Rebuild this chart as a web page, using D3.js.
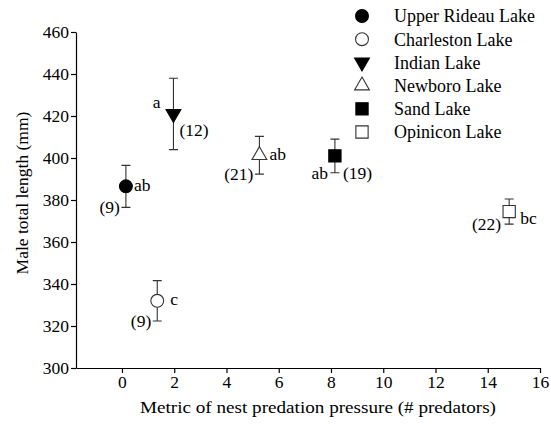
<!DOCTYPE html>
<html>
    <head>
        <title>Male total length vs nest predation</title>
        <script src="https://cdn.jsdelivr.net/npm/d3@7"></script>
        <style>
            body { margin: 0; background: #fff; }
        </style>
    </head>
    <body>
        <svg width="551" height="424" id="mainsvg" font-family="Liberation Serif"></svg>
        <script>
            // data
            const lakes = ['Upper Rideau Lake', 'Charleston Lake', 'Indian Lake', 'Newboro Lake', 'Sand Lake', 'Opinicon Lake'];
            const predators = [0.15, 1.35, 1.97, 5.26, 8.15, 14.82];
            const meanLength = [386.5, 332, 421, 401.3, 401, 374.5];
            const errLength = [10, 9.6, 17, 9, 8, 6];
            const sampleN = ['(9)', '(9)', '(12)', '(21)', '(19)', '(22)'];
            const groupLetter = ['ab', 'c', 'a', 'ab', 'ab', 'bc'];
            const xTicks = [0, 2, 4, 6, 8, 10, 12, 14, 16];
            const yTicks = [300, 320, 340, 360, 380, 400, 420, 440, 460];

            const shapes = ['circle', 'circle', 'triDown', 'triUp', 'square', 'square'];
            const filled = [true, false, true, false, true, false];

            // label placement, pixels from the point
            const nPos = [
                {anchor: 'end', dx: -6, at: 'low', dy: 0},
                {anchor: 'end', dx: -6, at: 'low', dy: 0},
                {anchor: 'start', dx: 6, at: 'mid', dy: 16},
                {anchor: 'end', dx: -6, at: 'low', dy: 0},
                {anchor: 'start', dx: 8, at: 'low', dy: 0},
                {anchor: 'end', dx: -8, at: 'low', dy: 0}
            ];
            const letterPos = [
                {anchor: 'start', dx: 8, at: 'mid', dy: -1},
                {anchor: 'start', dx: 13, at: 'mid', dy: -2},
                {anchor: 'end', dx: -13, at: 'mid', dy: -12},
                {anchor: 'start', dx: 10, at: 'mid', dy: -1},
                {anchor: 'end', dx: -7, at: 'low', dy: 0},
                {anchor: 'start', dx: 11, at: 'mid', dy: 6}
            ];

            const data = lakes.map((d, i) => ({
                lake: d, x: predators[i], y: meanLength[i], e: errLength[i],
                n: sampleN[i], letter: groupLetter[i], shape: shapes[i], filled: filled[i],
                nPos: nPos[i], letterPos: letterPos[i]
            }));

            const svg = d3.select('#mainsvg');
            const font = 'Liberation Serif';
            const fontSize = 17.5;

            const xScale = d3.scaleLinear().domain([-1.76, 16]).range([76, 540]);
            const yScale = d3.scaleLinear().domain([300, 460]).range([368, 32]);

            // axes
            const xAxis = d3.axisBottom(xScale).tickValues(xTicks).tickSize(5).tickPadding(3).tickSizeOuter(0);
            const xg = svg.append('g').attr('transform', 'translate(0,368)').call(xAxis);
            const yAxis = d3.axisLeft(yScale).tickValues(yTicks).tickSize(5).tickPadding(2).tickSizeOuter(0);
            const yg = svg.append('g').attr('transform', 'translate(76,0)').call(yAxis);
            [xg, yg].forEach(g => {
                g.attr('font-family', font).attr('font-size', fontSize);
                g.selectAll('path.domain').attr('stroke', '#000').attr('stroke-width', 1.2);
                g.selectAll('.tick line').attr('stroke', '#000').attr('stroke-width', 1.2);
                g.selectAll('.tick text').attr('fill', '#000');
            });

            svg.append('text')
                .attr('x', 318).attr('y', 413)
                .attr('text-anchor', 'middle')
                .attr('textLength', 356).attr('lengthAdjust', 'spacingAndGlyphs')
                .attr('font-family', font).attr('font-size', fontSize)
                .text('Metric of nest predation pressure (# predators)');
            svg.append('text')
                .attr('transform', 'translate(28,193) rotate(-90)')
                .attr('text-anchor', 'middle')
                .attr('font-family', font).attr('font-size', fontSize)
                .text('Male total length (mm)');

            // markers
            const sym = {
                circle: d3.symbol().type(d3.symbolCircle).size(130),
                triDown: d3.symbol().type(d3.symbolTriangle).size(95),
                triUp: d3.symbol().type(d3.symbolTriangle).size(95),
                square: d3.symbol().type(d3.symbolSquare).size(150)
            };
            const drawMarker = (sel, d) => {
                sel.append('path')
                    .attr('d', sym[d.shape]())
                    .attr('transform', d.shape === 'triDown' ? 'rotate(180)' : null)
                    .attr('fill', d.filled ? '#000' : '#fff')
                    .attr('stroke', d.filled ? '#000' : '#333')
                    .attr('stroke-width', 1.1);
            };

            const pts = svg.append('g').selectAll('g.pt').data(data).join('g').attr('class', 'pt');
            const cap = 4.5;
            pts.each(function(d) {
                const g = d3.select(this);
                const px = xScale(d.x), py = yScale(d.y);
                const yHi = yScale(d.y + d.e), yLo = yScale(d.y - d.e);
                g.append('path')
                    .attr('d', `M${px},${yHi}V${yLo}M${px - cap},${yHi}H${px + cap}M${px - cap},${yLo}H${px + cap}`)
                    .attr('stroke', '#333').attr('stroke-width', 1.1).attr('fill', 'none');
                const m = g.append('g').attr('transform', `translate(${px},${py})`);
                drawMarker(m, d);
                [[d.n, d.nPos], [d.letter, d.letterPos]].forEach(([t, p]) => {
                    g.append('text')
                        .attr('x', px + p.dx)
                        .attr('y', (p.at === 'low' ? yLo : py) + p.dy)
                        .attr('dy', '0.35em')
                        .attr('text-anchor', p.anchor)
                        .attr('font-family', font)
                        .attr('font-size', fontSize)
                        .text(t);
                });
            });

            // legend
            const legend = svg.append('g').selectAll('g.legend').data(data).join('g')
                .attr('class', 'legend')
                .attr('transform', (d, i) => `translate(362,${16 + i * 23.2})`);
            legend.each(function(d) { drawMarker(d3.select(this), d); });
            legend.append('text')
                .attr('x', 32).attr('dy', '0.35em')
                .attr('font-family', font)
                .attr('font-size', 18)
                .text(d => d.lake);
        </script>
    </body>
</html>
